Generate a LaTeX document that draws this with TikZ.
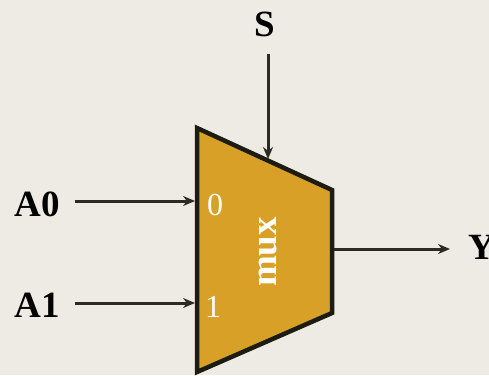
\documentclass[tikz,border=0pt]{standalone}
\usepackage{fontspec}
\usepackage{tkz-euclide}
\usetikzlibrary{arrows.meta}
\setmainfont{Liberation Serif}
\definecolor{paper}{HTML}{EEEBE4}
\definecolor{muxfill}{HTML}{D8A026}
\definecolor{muxline}{HTML}{1C1C10}
\definecolor{wire}{HTML}{2B2B22}
\tikzset{
    sig/.style={font=\fontsize{37}{40}\selectfont\bfseries, text=black, inner sep=0pt},
    pin/.style={font=\fontsize{32}{34}\selectfont, text=white, inner sep=0pt},
    wirearrow/.style={-{Stealth[length=12pt,width=10pt]}, draw=wire, line width=3pt}
}

\begin{document}
\begin{tikzpicture}[x=1pt, y=1pt]
    \fill[paper] (0,0) rectangle (489,375);
    \useasboundingbox (0,0) rectangle (489,375);
    \tkzDefPoints{197/247/P, 197/3/Q, 332/62/R, 332/185/T}
    \tkzDefPoints{195/174/I, 195/72/J, 268/216/K, 334/126/O}
    \tkzDrawPolygon[fill=muxfill, draw=muxline, line width=4.5pt, line join=miter](P,Q,R,T)
    \node[sig] (A0) at (37,171) {A0};
    \node[sig] (A1) at (37,70) {A1};
    \node[sig] (S) at (265,351) {S};
    \node[sig, anchor=west] (Y) at (468,128) {Y};
    \node[pin] (zero) at (215,170) {0};
    \node[pin] (one) at (213,68) {1};
    \node[sig, text=white, rotate=90] (mux) at (268,123) {mux};
    \draw[wirearrow, shorten <=15pt] (A0.east |- I) -- (I);
    \draw[wirearrow, shorten <=15pt] (A1.east |- J) -- (J);
    \draw[wirearrow, shorten <=17pt] (S.south -| K) -- (K);
    \draw[wirearrow, shorten >=18pt] (O) -- (Y.west |- O);
\end{tikzpicture}
\end{document}
